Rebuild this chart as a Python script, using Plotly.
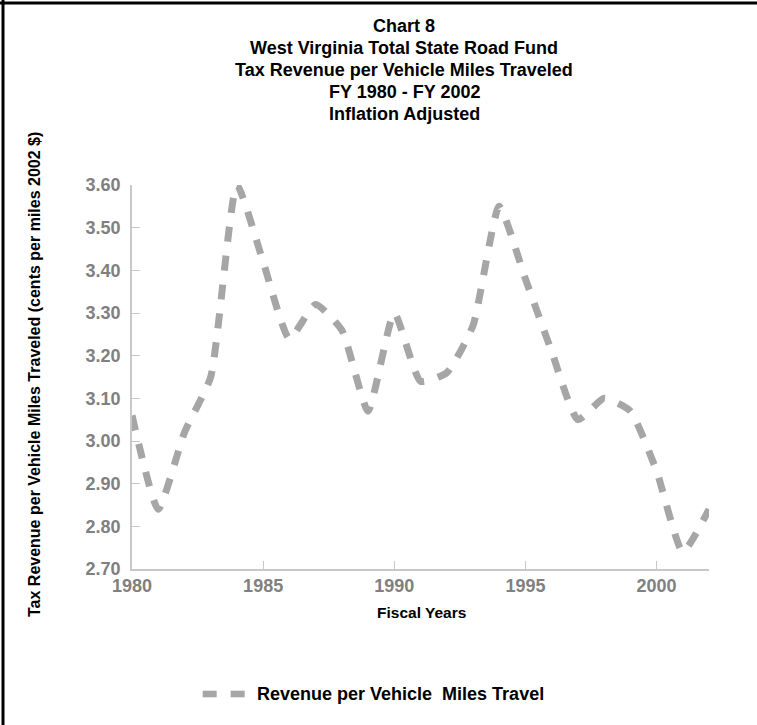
import plotly.graph_objects as go

years = list(range(1980, 2003))
revenue = [3.06, 2.84, 3.02, 3.15, 3.60, 3.42, 3.24, 3.32, 3.26, 3.07, 3.30, 3.14,
           3.16, 3.27, 3.55, 3.38, 3.21, 3.05, 3.10, 3.07, 2.93, 2.74, 2.84]
series_name = "Revenue per Vehicle &nbsp;Miles Travel"
title_lines = ["Chart 8", "West Virginia Total State Road Fund",
               "Tax Revenue per Vehicle Miles Traveled", "FY 1980 - FY 2002",
               "Inflation Adjusted"]
y_title = "Tax Revenue per Vehicle Miles Traveled (cents per miles 2002 $)"
x_title = "Fiscal Years"
y_ticks = [2.70, 2.80, 2.90, 3.00, 3.10, 3.20, 3.30, 3.40, 3.50, 3.60]
x_ticks = [1980, 1985, 1990, 1995, 2000]

W, H = 757, 725
L, R, T, B = 132, 48, 185, 156
PW, PH = W - L - R, H - T - B

def px(x):
    return (x - L) / PW

def py(y):
    return (H - B - y) / PH

LINE_COLOR = "#A6A6A6"
FONT = "Liberation Sans, Arial, sans-serif"

fig = go.Figure()
fig.add_trace(go.Scatter(
    x=years, y=revenue, mode="lines", name=series_name,
    line=dict(color=LINE_COLOR, width=7, dash="15px,14px", shape="spline", smoothing=0.5),
    showlegend=False, hoverinfo="x+y"))

ann = []
y0 = 26.5
for i, t in enumerate(title_lines):
    ann.append(dict(text=t, x=px(404), y=py(y0 + i * 21.8), xref="paper", yref="paper",
                    xanchor="center", yanchor="middle", showarrow=False,
                    font=dict(family=FONT, size=18, color="black", weight="bold")))
ann.append(dict(text=y_title, x=px(34), y=py(375), xref="paper", yref="paper",
                textangle=-90, xanchor="center", yanchor="middle", showarrow=False,
                font=dict(family=FONT, size=16, color="black", weight="bold")))
ann.append(dict(text=x_title, x=px(421), y=py(612), xref="paper", yref="paper",
                xanchor="center", yanchor="middle", showarrow=False,
                font=dict(family=FONT, size=15.5, color="black", weight="bold")))
ann.append(dict(text=series_name, x=px(255), y=py(693.5), xref="paper", yref="paper",
                xanchor="left", yanchor="middle", showarrow=False,
                font=dict(family=FONT, size=18, color="black", weight="bold")))

shapes = [
    dict(type="rect", xref="paper", yref="paper", x0=px(202.7), x1=px(216.7),
         y0=py(690.7), y1=py(697.3), fillcolor=LINE_COLOR, line=dict(width=0)),
    dict(type="rect", xref="paper", yref="paper", x0=px(230.7), x1=px(244.7),
         y0=py(690.7), y1=py(697.3), fillcolor=LINE_COLOR, line=dict(width=0)),
    dict(type="line", xref="paper", yref="paper", x0=px(0), x1=px(W + 5),
         y0=py(3), y1=py(3), line=dict(color="black", width=3)),
    dict(type="line", xref="paper", yref="paper", x0=px(3), x1=px(3),
         y0=py(0), y1=py(H + 5), line=dict(color="black", width=3)),
]

fig.update_layout(
    width=W, height=H, margin=dict(l=L, r=R, t=T, b=B, autoexpand=False),
    paper_bgcolor="white", plot_bgcolor="white",
    annotations=ann, shapes=shapes, showlegend=False,
    xaxis=dict(range=[1980, 2002], tickvals=x_ticks, ticks="inside", ticklen=8,
               tickcolor="#C8C8C8", showline=True, linecolor="#C8C8C8", linewidth=1.5,
               showgrid=False, zeroline=False,
               tickfont=dict(family=FONT, size=18, color="#808080", weight="bold")),
    yaxis=dict(range=[2.70, 3.60], tickvals=y_ticks, tickformat=".2f", ticks="inside",
               ticklen=8, tickcolor="#C8C8C8", showline=True, linecolor="#C8C8C8",
               linewidth=1.5, showgrid=False, zeroline=False, ticklabelstandoff=6,
               tickfont=dict(family=FONT, size=18, color="#808080", weight="bold")),
)

fig.write_html("out.html", config={"displayModeBar": False},
               post_script="document.body.style.margin='0';document.body.style.padding='0';")
